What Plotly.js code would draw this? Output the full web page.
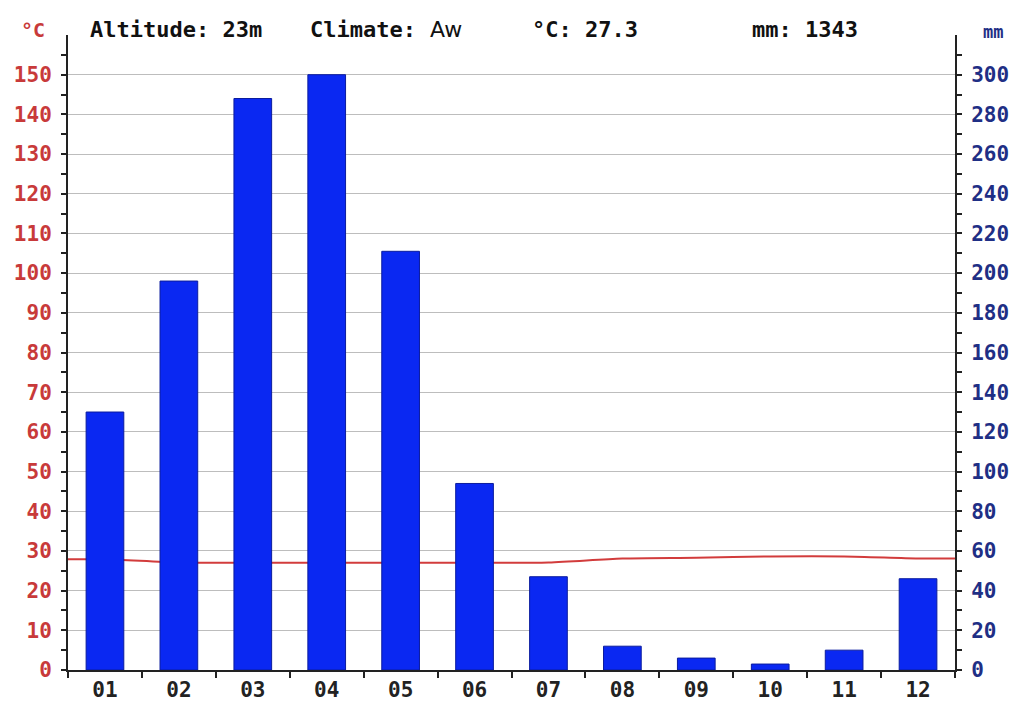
<!DOCTYPE html>
<html>
<head>
<meta charset="utf-8">
<script src="https://cdn.plot.ly/plotly-3.0.1.min.js"></script>
<style>html,body{margin:0;padding:0;background:#fff;}#chart{width:1027px;height:706px;}</style>
</head>
<body>
<div id="chart"></div>
<script>
const months = ["01","02","03","04","05","06","07","08","09","10","11","12"];
const precipitation = [130, 196, 288, 300, 211, 94, 47, 12, 6, 3, 10, 46];
const temperature = [27.9, 27.1, 27.0, 27.0, 27.0, 27.0, 27.1, 28.1, 28.3, 28.6, 28.6, 28.1];
const tempTicks = [0,10,20,30,40,50,60,70,80,90,100,110,120,130,140,150];
const precTicks = [0,20,40,60,80,100,120,140,160,180,200,220,240,260,280,300];
const headerAltitude = "Altitude: 23m";
const headerClimate = "Climate:";
const headerClimateCode = "Aw";
const headerTemp = "°C: 27.3";
const headerPrec = "mm: 1343";

const mono = "DejaVu Sans Mono, monospace";
const redTxt = "#c83a3a";
const blueTxt = "#1f2f85";

// line spans the full plot width: extend first/last values to the category edges
const idx = months.map((m, i) => i);
const lineX = [-0.5].concat(idx, [months.length - 0.5]);
const lineY = [temperature[0]].concat(temperature, [temperature[temperature.length - 1]]);

const traces = [
  {
    type: "scatter", mode: "lines",
    x: lineX, y: lineY, xaxis: "x", yaxis: "y",
    line: {color: "#d23c3c", width: 2, shape: "spline", smoothing: 0.8},
    hoverinfo: "skip", showlegend: false
  },
  {
    type: "bar",
    x: months, y: precipitation, xaxis: "x2", yaxis: "y2",
    marker: {color: "#0a28f2", line: {color: "#0b1c9e", width: 1}},
    showlegend: false
  }
];

const layout = {
  width: 1027, height: 706,
  margin: {l: 68, r: 72, t: 35, b: 36},
  paper_bgcolor: "#ffffff", plot_bgcolor: "#ffffff",
  showlegend: false,
  bargap: 0.49,
  xaxis: {
    range: [-0.5, months.length - 0.5], showgrid: false, zeroline: false,
    showticklabels: false, ticks: "", showline: false, fixedrange: true
  },
  yaxis: {
    range: [0, 160], tickvals: tempTicks, ticktext: tempTicks.map(String),
    showgrid: true, gridcolor: "#bdbdbd", gridwidth: 1, zeroline: false,
    showline: true, linecolor: "#222", linewidth: 2,
    ticks: "outside", ticklen: 5, tickwidth: 2, tickcolor: "#222",
    ticklabelstandoff: 5,
    minor: {tickvals: tempTicks.map(v => v + 5), ticks: "outside", ticklen: 5, tickwidth: 2, tickcolor: "#222", showgrid: false},
    tickfont: {family: mono, size: 21, color: redTxt, weight: "bold"}
  },
  xaxis2: {
    type: "category", overlaying: "x", anchor: "y2", side: "bottom",
    tickson: "boundaries", showgrid: false, zeroline: false,
    showline: true, linecolor: "#222", linewidth: 2,
    ticks: "outside", ticklen: 6, tickwidth: 2, tickcolor: "#222",
    tickfont: {family: mono, size: 21, color: "#222", weight: "bold"}
  },
  yaxis2: {
    range: [0, 320], overlaying: "y", side: "right", anchor: "x2",
    tickvals: precTicks, ticktext: precTicks.map(String),
    showgrid: false, zeroline: false,
    showline: true, linecolor: "#222", linewidth: 2,
    ticks: "outside", ticklen: 5, tickwidth: 2, tickcolor: "#222",
    ticklabelstandoff: 5,
    minor: {tickvals: precTicks.map(v => v + 10), ticks: "outside", ticklen: 5, tickwidth: 2, tickcolor: "#222", showgrid: false},
    tickfont: {family: mono, size: 21, color: blueTxt, weight: "bold"}
  },
  annotations: [
    {text: "°C", xref: "paper", yref: "paper", x: -0.039, y: 1.008, xanchor: "center", yanchor: "middle", showarrow: false,
     font: {family: mono, size: 20, color: redTxt, weight: "bold"}},
    {text: headerAltitude, xref: "paper", yref: "paper", x: 0.0225, y: 1.008, xanchor: "left", yanchor: "middle", showarrow: false,
     font: {family: mono, size: 22, color: "#111", weight: "bold"}},
    {text: headerClimate, xref: "paper", yref: "paper", x: 0.2706, y: 1.008, xanchor: "left", yanchor: "middle", showarrow: false,
     font: {family: mono, size: 22, color: "#111", weight: "bold"}},
    {text: headerClimateCode, xref: "paper", yref: "paper", x: 0.406, y: 1.008, xanchor: "left", yanchor: "middle", showarrow: false,
     font: {family: "DejaVu Sans, sans-serif", size: 22, color: "#111"}},
    {text: headerTemp, xref: "paper", yref: "paper", x: 0.521, y: 1.008, xanchor: "left", yanchor: "middle", showarrow: false,
     font: {family: mono, size: 22, color: "#111", weight: "bold"}},
    {text: headerPrec, xref: "paper", yref: "paper", x: 0.769, y: 1.008, xanchor: "left", yanchor: "middle", showarrow: false,
     font: {family: mono, size: 22, color: "#111", weight: "bold"}},
    {text: "mm", xref: "paper", yref: "paper", x: 1.043, y: 1.005, xanchor: "center", yanchor: "middle", showarrow: false,
     font: {family: mono, size: 17, color: blueTxt, weight: "bold"}}
  ]
};

Plotly.newPlot("chart", traces, layout, {displayModeBar: false, staticPlot: true});
</script>
</body>
</html>
